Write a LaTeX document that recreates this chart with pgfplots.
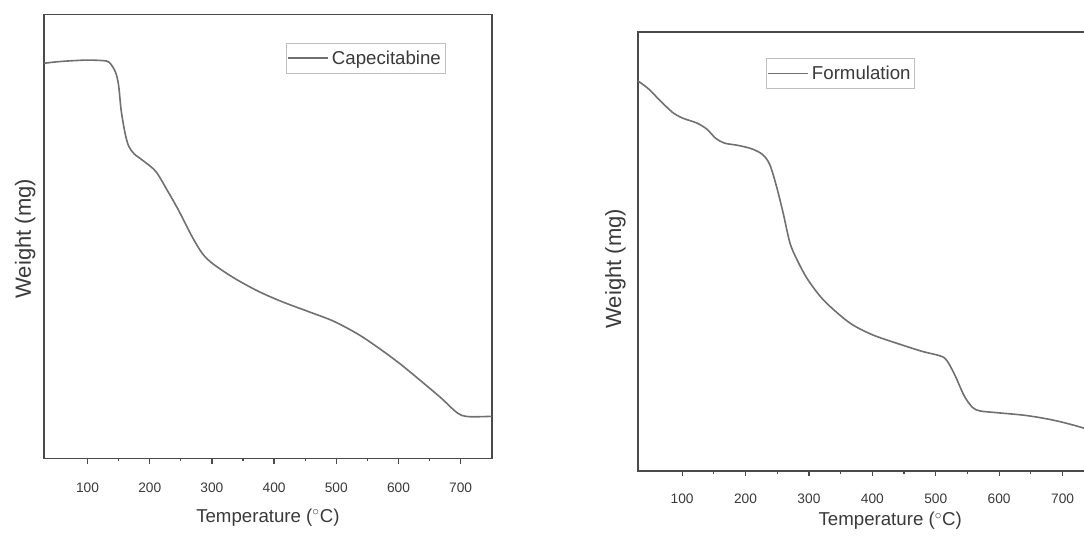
\documentclass[border=0pt]{standalone}
\usepackage{pgfplots}
\pgfplotsset{compat=1.18}
\usepackage{fontspec}
\setmainfont{Liberation Sans}
\definecolor{axc}{HTML}{4A4A4A}
\definecolor{crv}{HTML}{707070}
\definecolor{txt}{HTML}{3A3A3A}
\pgfplotsset{
  tga/.style={
    scale only axis,
    anchor=south west,
    xmin=30, xmax=750, ymin=0, ymax=100,
    axis line style={draw=axc, line width=1.3pt},
    xtick={100,200,...,700},
    minor x tick num=1,
    xtick pos=bottom,
    tick align=outside,
    major tick length=3.8pt,
    minor tick length=2.2pt,
    every tick/.style={draw=axc, line width=0.9pt},
    ytick=\empty,
    tick label style={text=txt, font=\fontsize{10.3}{12}\selectfont},
    /pgf/number format/assume math mode=true,
    xlabel={Temperature ($^\circ$C)},
    xlabel style={text=txt, font=\fontsize{14}{16}\selectfont, anchor=center},
    ylabel={Weight (mg)},
    ylabel style={text=txt, font=\fontsize{16.5}{18}\selectfont, anchor=center},
    legend style={draw=black!25, line width=0.5pt, font=\fontsize{14}{16}\selectfont, text=txt,
      inner xsep=1pt, inner ysep=3.5pt, legend cell align=left},
    legend image code/.code={\draw[#1] (0pt,0pt) -- (30pt,0pt);},
  }
}
\pgfplotstableread{
T w
30 89.0
57 89.4
96 89.7
124 89.6
135 89.2
145 87.0
150 84.0
154 78.5
160 73.5
166 70.4
175 68.6
190 67.0
210 64.6
229 60.2
246 56.0
268 50.0
285 46.1
302 43.8
335 40.7
374 37.7
413 35.3
457 33.0
496 30.9
535 28.0
568 24.9
601 21.5
635 17.6
668 13.7
690 10.8
702 9.7
718 9.4
750 9.5
}\capdata
\pgfplotstableread{
T w
30 88.8
46 87.1
66 84.2
85 81.6
101 80.3
123 79.2
139 77.8
153 75.7
167 74.6
188 74.1
210 73.3
227 72.0
238 69.8
248 65.2
259 58.9
270 51.9
281 48.1
297 43.8
319 39.5
341 36.4
368 33.3
401 30.9
439 29.0
478 27.2
508 26.1
518 25.0
531 21.5
545 17.0
558 14.4
570 13.6
597 13.2
641 12.6
679 11.7
706 10.8
733 9.7
750 8.6
}\fordata
\begin{document}
\begin{tikzpicture}
\useasboundingbox (0,0) rectangle (813pt,402pt);
\clip (0,0) rectangle (813pt,402pt);
\begin{axis}[tga,
  at={(33pt,58.1pt)}, width=335.8pt, height=333.1pt,
  xticklabel style={anchor=center, yshift=-18pt},
  xlabel style={at={(axis description cs:0.5,-0.134)}},
  ylabel style={at={(axis description cs:-0.042,0.495)}},
  legend style={at={(axis description cs:0.5405,0.936)}, anchor=north west},
]
\addplot[crv, line width=1.2pt, smooth, tension=0.5] table[x=T, y=w] {\capdata};
\addlegendentry{Capecitabine}
\end{axis}
\begin{axis}[tga,
  at={(478.3pt,49pt)}, width=342.4pt, height=329.25pt,
  xticklabel style={anchor=center, yshift=-17.3pt},
  xlabel style={at={(axis description cs:0.553,-0.115)}},
  ylabel style={at={(axis description cs:-0.049,0.46)}},
  legend style={at={(axis description cs:0.281,0.940)}, anchor=north west},
]
\addplot[crv, line width=1.2pt, smooth, tension=0.5] table[x=T, y=w] {\fordata};
\addlegendentry{Formulation}
\end{axis}
\end{tikzpicture}
\end{document}
